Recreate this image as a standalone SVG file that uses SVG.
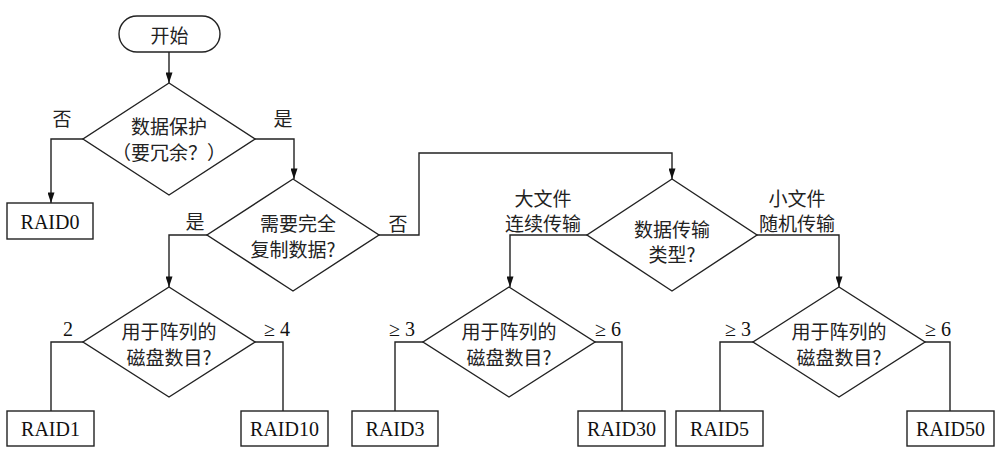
<svg xmlns="http://www.w3.org/2000/svg" width="1005" height="457" viewBox="0 0 1005 457">
<style>
.s{fill:#fff;stroke:#222;stroke-width:1.4}
.c{fill:none;stroke:#222;stroke-width:1.4}
.t{font-family:"Noto Sans CJK SC",sans-serif;font-size:19px;fill:#222;text-anchor:middle;dominant-baseline:central}
.r{font-family:"Liberation Serif",serif;font-size:20px;fill:#111;text-anchor:middle;dominant-baseline:central}
</style>
<defs>
<marker id="a" viewBox="0 0 12 8" refX="12" refY="4" markerWidth="12" markerHeight="7" markerUnits="userSpaceOnUse" orient="auto">
<path d="M0,0 L12,4 L0,8 Z" fill="#111"/>
</marker>
</defs>
<rect width="1005" height="457" fill="#fff"/>
<g id="connectors">
<path class="c" d="M169,52 V83" marker-end="url(#a)"/>
<path class="c" d="M83,139 H51 V203" marker-end="url(#a)"/>
<path class="c" d="M255,139 H294 V179" marker-end="url(#a)"/>
<path class="c" d="M207,235 H169 V287" marker-end="url(#a)"/>
<path class="c" d="M379,235 H419 V153 H672 V179" marker-end="url(#a)"/>
<path class="c" d="M587,235 H510 V287" marker-end="url(#a)"/>
<path class="c" d="M757,235 H839 V287" marker-end="url(#a)"/>
<path class="c" d="M83,342 H51 V411"/>
<path class="c" d="M255,342 H283 V411"/>
<path class="c" d="M423,342 H395 V411"/>
<path class="c" d="M595,342 H622 V411"/>
<path class="c" d="M753,342 H720 V411"/>
<path class="c" d="M925,342 H950 V411"/>
<text class="t" x="62" y="117">否</text>
<text class="t" x="283" y="117">是</text>
<text class="t" x="195" y="220">是</text>
<text class="t" x="398" y="222">否</text>
<text class="t" x="543" y="197">大文件</text>
<text class="t" x="543" y="222">连续传输</text>
<text class="t" x="797" y="197">小文件</text>
<text class="t" x="797" y="222">随机传输</text>
<text class="r" x="68" y="329">2</text>
<text class="r" x="277" y="329">≥ 4</text>
<text class="r" x="402" y="329">≥ 3</text>
<text class="r" x="608" y="329">≥ 6</text>
<text class="r" x="738" y="329">≥ 3</text>
<text class="r" x="938" y="329">≥ 6</text>
</g>
<g id="start">
<rect class="s" x="119" y="16" width="101" height="36" rx="18"/>
<text class="t" x="169.5" y="34">开始</text>
</g>
<g id="d1">
<path class="s" d="M169,83 L255,139 L169,195 L83,139 Z"/>
<text class="t" x="169" y="125">数据保护</text>
<text class="t" x="169" y="151">（要冗余？）</text>
</g>
<g id="raid0">
<rect class="s" x="7" y="203" width="86" height="36"/>
<text class="r" x="50" y="222">RAID0</text>
</g>
<g id="d2">
<path class="s" d="M293,179 L379,235 L293,291 L207,235 Z"/>
<text class="t" x="298" y="222">需要完全</text>
<text class="t" x="293" y="248">复制数据?</text>
</g>
<g id="d4">
<path class="s" d="M672,179 L757,235 L672,291 L587,235 Z"/>
<text class="t" x="672" y="228">数据传输</text>
<text class="t" x="672" y="253">类型?</text>
</g>
<g id="d3">
<path class="s" d="M169,287 L255,342 L169,397 L83,342 Z"/>
<text class="t" x="169" y="330">用于阵列的</text>
<text class="t" x="169" y="356">磁盘数目?</text>
</g>
<g id="d5">
<path class="s" d="M509,287 L595,342 L509,397 L423,342 Z"/>
<text class="t" x="509" y="330">用于阵列的</text>
<text class="t" x="509" y="356">磁盘数目?</text>
</g>
<g id="d6">
<path class="s" d="M839,287 L925,342 L839,397 L753,342 Z"/>
<text class="t" x="839" y="330">用于阵列的</text>
<text class="t" x="839" y="356">磁盘数目?</text>
</g>
<g id="raid1">
<rect class="s" x="7" y="411" width="87" height="35"/>
<text class="r" x="50.5" y="429">RAID1</text>
</g>
<g id="raid10">
<rect class="s" x="241" y="411" width="87" height="35"/>
<text class="r" x="284.5" y="429">RAID10</text>
</g>
<g id="raid3">
<rect class="s" x="352" y="411" width="86" height="35"/>
<text class="r" x="395" y="429">RAID3</text>
</g>
<g id="raid30">
<rect class="s" x="578" y="411" width="87" height="35"/>
<text class="r" x="621.5" y="429">RAID30</text>
</g>
<g id="raid5">
<rect class="s" x="676" y="411" width="87" height="35"/>
<text class="r" x="719.5" y="429">RAID5</text>
</g>
<g id="raid50">
<rect class="s" x="907" y="411" width="87" height="35"/>
<text class="r" x="950.5" y="429">RAID50</text>
</g>
</svg>
